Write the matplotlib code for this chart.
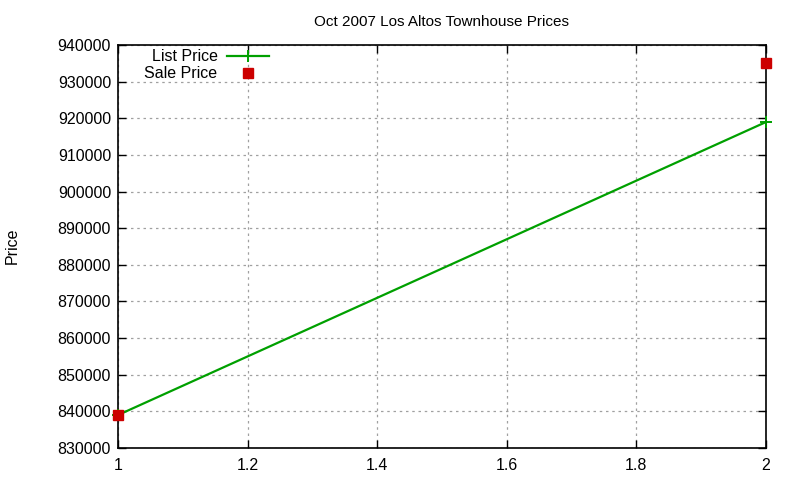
import matplotlib.pyplot as plt
from matplotlib.ticker import MultipleLocator

plt.rcParams['font.family'] = ['Liberation Sans', 'DejaVu Sans']

# data
list_x = [1, 2]
list_price = [839000, 919000]
sale_x = [1, 2]
sale_price = [839000, 935000]
title = "Oct 2007 Los Altos Townhouse Prices"

fig = plt.figure(figsize=(8, 4.8), dpi=100)
ax = fig.add_axes([0.1475, 0.0667, 0.81, 0.8393])

ax.plot(list_x, list_price, color='#00a000', lw=1.6, marker='+', ms=9, mew=1.4,
        label='List Price', clip_on=False, zorder=3)
ax.plot(sale_x, sale_price, color='#cc0000', ls='none', marker='s', ms=7,
        label='Sale Price', clip_on=False, zorder=4)

ax.set_xlim(1, 2)
ax.set_ylim(830000, 940000)
ax.yaxis.set_major_locator(MultipleLocator(10000))
ax.set_xticks([1, 1.2, 1.4, 1.6, 1.8, 2])
ax.set_xticklabels(['1', '1.2', '1.4', '1.6', '1.8', '2'])
ax.ticklabel_format(axis='y', style='plain', useOffset=False)

ax.grid(True, color='#a0a0a0', ls=(0, (2, 3)), lw=0.9)
ax.tick_params(direction='in', top=True, right=True, length=6, width=1,
               labelsize=11.5, pad=5, color='black')
ax.tick_params(axis='x', pad=7)
for s in ax.spines.values():
    s.set_linewidth(1.2)

ax.set_title(title, fontsize=11, pad=14)
fig.text(0.015, 0.487, 'Price', rotation=90, fontsize=11.5, ha='center', va='center')

ax.legend(loc='upper left', frameon=False, markerfirst=False, fontsize=11.5,
          handlelength=2.6, handletextpad=0.6, borderaxespad=0.0,
          labelspacing=0.1, bbox_to_anchor=(0.031, 1.005))

fig.savefig('out.png', dpi=100)
